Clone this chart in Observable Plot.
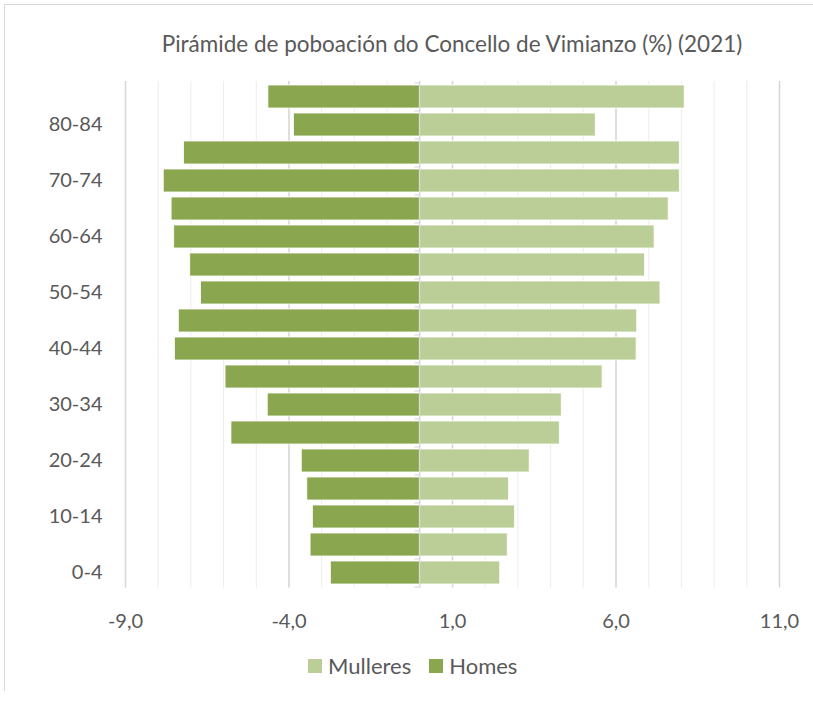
<!DOCTYPE html>
<html>
<head>
<meta charset="utf-8">
<script src="https://cdn.jsdelivr.net/npm/d3@7"></script>
<script src="https://cdn.jsdelivr.net/npm/@observablehq/plot@0.6"></script>
<style>
  html, body { margin: 0; padding: 0; background: #fff; }
  #wrap { position: relative; width: 813px; height: 703px; overflow: hidden; font-family: Lato, "Open Sans", sans-serif; color: #595959; }
  #frame { position: absolute; left: 4px; top: 4px; width: 840px; height: 686px; border-left: 1px solid #d9d9d9; border-top: 1px solid #d9d9d9; }
  #title { position: absolute; left: 0; top: 29px; width: 904px; text-align: center; font-size: 22.5px; line-height: 30px; font-weight: 400; }
  #chart { position: absolute; left: 0; top: 0; }
  #legend { position: absolute; left: 308px; top: 653px; font-size: 22px; line-height: 26px; display: flex; align-items: center; }
  .sw { display: inline-block; width: 14px; height: 14px; margin-right: 6px; }
  .item { display: flex; align-items: center; margin-right: 18px; }
</style>
</head>
<body>
<div id="wrap">
  <div id="frame"></div>
  <div id="title">Pirámide de poboación do Concello de Vimianzo (%) (2021)</div>
  <div id="chart"></div>
  <div id="legend"></div>
</div>
<script>
const ages = ["0-4","5-9","10-14","15-19","20-24","25-29","30-34","35-39","40-44","45-49","50-54","55-59","60-64","65-69","70-74","75-79","80-84","85+"];
const homes = [-2.72,-3.34,-3.27,-3.44,-3.61,-5.76,-4.65,-5.94,-7.49,-7.37,-6.69,-7.02,-7.51,-7.59,-7.83,-7.21,-3.85,-4.63];
const mulleres = [2.46,2.69,2.91,2.73,3.36,4.28,4.34,5.59,6.63,6.65,7.36,6.89,7.18,7.61,7.95,7.95,5.38,8.10];
const seriesNames = ["Mulleres", "Homes"];
const seriesColors = ["#bbce97", "#8aa64f"];
const majorTicks = [-9, -4, 1, 6, 11];
const minorTicks = d3.range(-9, 12, 1);
const labeledAges = ages.filter((d, i) => i % 2 === 0);

const rowsH = ages.map((a, i) => ({age: a, value: homes[i]}));
const rowsM = ages.map((a, i) => ({age: a, value: mulleres[i]}));

const fmt = d => d.toFixed(1).replace(".", ",");
const W = 813, H = 640, mt = 81, mb = 52.5;
const step = (H - mt - mb) / ages.length;

const chart = Plot.plot({
  width: W,
  height: H,
  marginTop: mt,
  marginBottom: mb,
  marginLeft: 125,
  marginRight: 34,
  style: {fontFamily: "Lato, 'Open Sans', sans-serif", fontSize: "20px", color: "#595959", background: "transparent"},
  x: {domain: [-9, 11]},
  y: {domain: ages.slice().reverse(), paddingInner: 0.17, paddingOuter: 0.085},
  marks: [
    Plot.ruleX(minorTicks, {stroke: "#ececec", strokeWidth: 1}),
    Plot.ruleX(majorTicks, {stroke: "#d6d6d6", strokeWidth: 1.5}),
    Plot.barX(rowsM, {x: "value", y: "age", fill: seriesColors[0], stroke: "#ffffff", strokeWidth: 0.8}),
    Plot.barX(rowsH, {x: "value", y: "age", fill: seriesColors[1], stroke: "#ffffff", strokeWidth: 0.8}),
    Plot.ruleX([0], {stroke: "#d0d0d0", strokeWidth: 1}),
    Plot.ruleY(ages, {y: d => d, x1: -0.15, x2: 0, dy: -step / 2, stroke: "#d0d0d0"}),
    Plot.ruleY([ages[0]], {y: d => d, x1: -0.15, x2: 0, dy: step / 2, stroke: "#d0d0d0"}),
    Plot.axisX({ticks: majorTicks, tickFormat: fmt, tickSize: 0, tickPadding: 25.5, fill: "#595959", fontSize: 20, label: null}),
    Plot.axisY({ticks: labeledAges, tickSize: 0, tickPadding: 23, fill: "#595959", fontSize: 20, label: null})
  ]
});
document.getElementById("chart").appendChild(chart);

const legend = document.getElementById("legend");
seriesNames.forEach((n, i) => {
  const it = document.createElement("div");
  it.className = "item";
  const sw = document.createElement("span");
  sw.className = "sw";
  sw.style.background = seriesColors[i];
  it.appendChild(sw);
  it.appendChild(document.createTextNode(n));
  legend.appendChild(it);
});
</script>
</body>
</html>
